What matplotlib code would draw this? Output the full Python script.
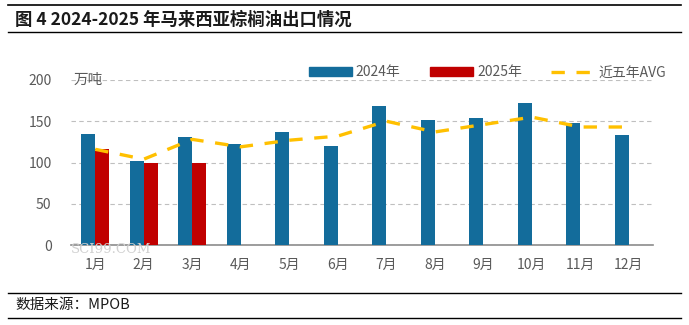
import numpy as np
import matplotlib
matplotlib.use("Agg")
import matplotlib.pyplot as plt
from matplotlib.lines import Line2D
from matplotlib.patches import Patch

plt.rcParams['font.family'] = ['Noto Sans CJK SC', 'DejaVu Sans']

months = ["1月", "2月", "3月", "4月", "5月", "6月", "7月", "8月", "9月", "10月", "11月", "12月"]
exp_2024 = [135, 102, 131, 122, 137, 120, 168, 152, 154, 172, 148, 133]
exp_2025 = [116, 100, 100]
avg_5y = [116, 104, 128, 119, 127, 132, 150, 137, 146, 155, 143, 143]

c24 = "#136C9B"
c25 = "#C00000"
cavg = "#FFC000"
gray = "#595959"

fig = plt.figure(figsize=(6.89, 3.25), dpi=100)
ax = fig.add_axes([0.103, 0.246, 0.845, 0.508])

x = np.arange(len(months))
w = 0.29
ax.bar(x - w / 2, exp_2024, width=w, color=c24, zorder=3)
ax.bar(x[:len(exp_2025)] + w / 2, exp_2025, width=w, color=c25, zorder=3)
ax.plot(x, avg_5y, color=cavg, lw=2.4, dashes=(4, 3.5), zorder=4)

ax.set_xlim(-0.5, len(months) - 0.5)
ax.set_ylim(0, 200)
ax.set_yticks([0, 50, 100, 150, 200])
ax.set_xticks(x)
ax.set_xticklabels(months)
ax.tick_params(axis='both', length=0, labelsize=10, colors=gray)
ax.tick_params(axis='x', pad=9)
ax.tick_params(axis='y', pad=14)
ax.grid(axis='y', color="#BFBFBF", ls=(0, (4, 3)), lw=0.8, zorder=0)
for s in ["left", "right", "top"]:
    ax.spines[s].set_visible(False)
ax.spines["bottom"].set_color("#8C8C8C")
ax.spines["bottom"].set_linewidth(1.2)

ax.text(0.005, 1.0, "万吨", transform=ax.transAxes, fontsize=10.5, color=gray,
        ha="left", va="center")

handles = [Patch(color=c24), Patch(color=c25),
           Line2D([], [], color=cavg, lw=2.4, dashes=(4, 3.5))]
ax.legend(handles, ["2024年", "2025年", "近五年AVG"], loc="lower center",
          bbox_to_anchor=(0.715, 0.97), ncol=3, frameon=False, fontsize=10,
          labelcolor=gray, handlelength=3.1, handleheight=0.6,
          columnspacing=2.1, handletextpad=0.3, borderaxespad=0)

# watermark
fig.text(0.103, 0.232, "SCI99.COM", fontsize=9.5, color="#D0D0D0",
         family="DejaVu Serif", ha="left", va="center", zorder=0)

# title and source with rules
fig.text(0.022, 0.94, "图 4 2024-2025 年马来西亚棕榈油出口情况", fontsize=12.5,
         fontweight="bold", ha="left", va="center", color="#1a1a1a")
fig.add_artist(Line2D([0.012, 0.988], [0.985, 0.985], color="black", lw=1.2))
fig.add_artist(Line2D([0.012, 0.988], [0.902, 0.902], color="black", lw=1.0))
fig.text(0.022, 0.062, "数据来源：MPOB", fontsize=10.5, ha="left", va="center",
         color="#1a1a1a")
fig.add_artist(Line2D([0.012, 0.988], [0.099, 0.099], color="black", lw=1.0))
fig.add_artist(Line2D([0.012, 0.988], [0.022, 0.022], color="black", lw=1.0))

fig.savefig("out.png", dpi=100)
